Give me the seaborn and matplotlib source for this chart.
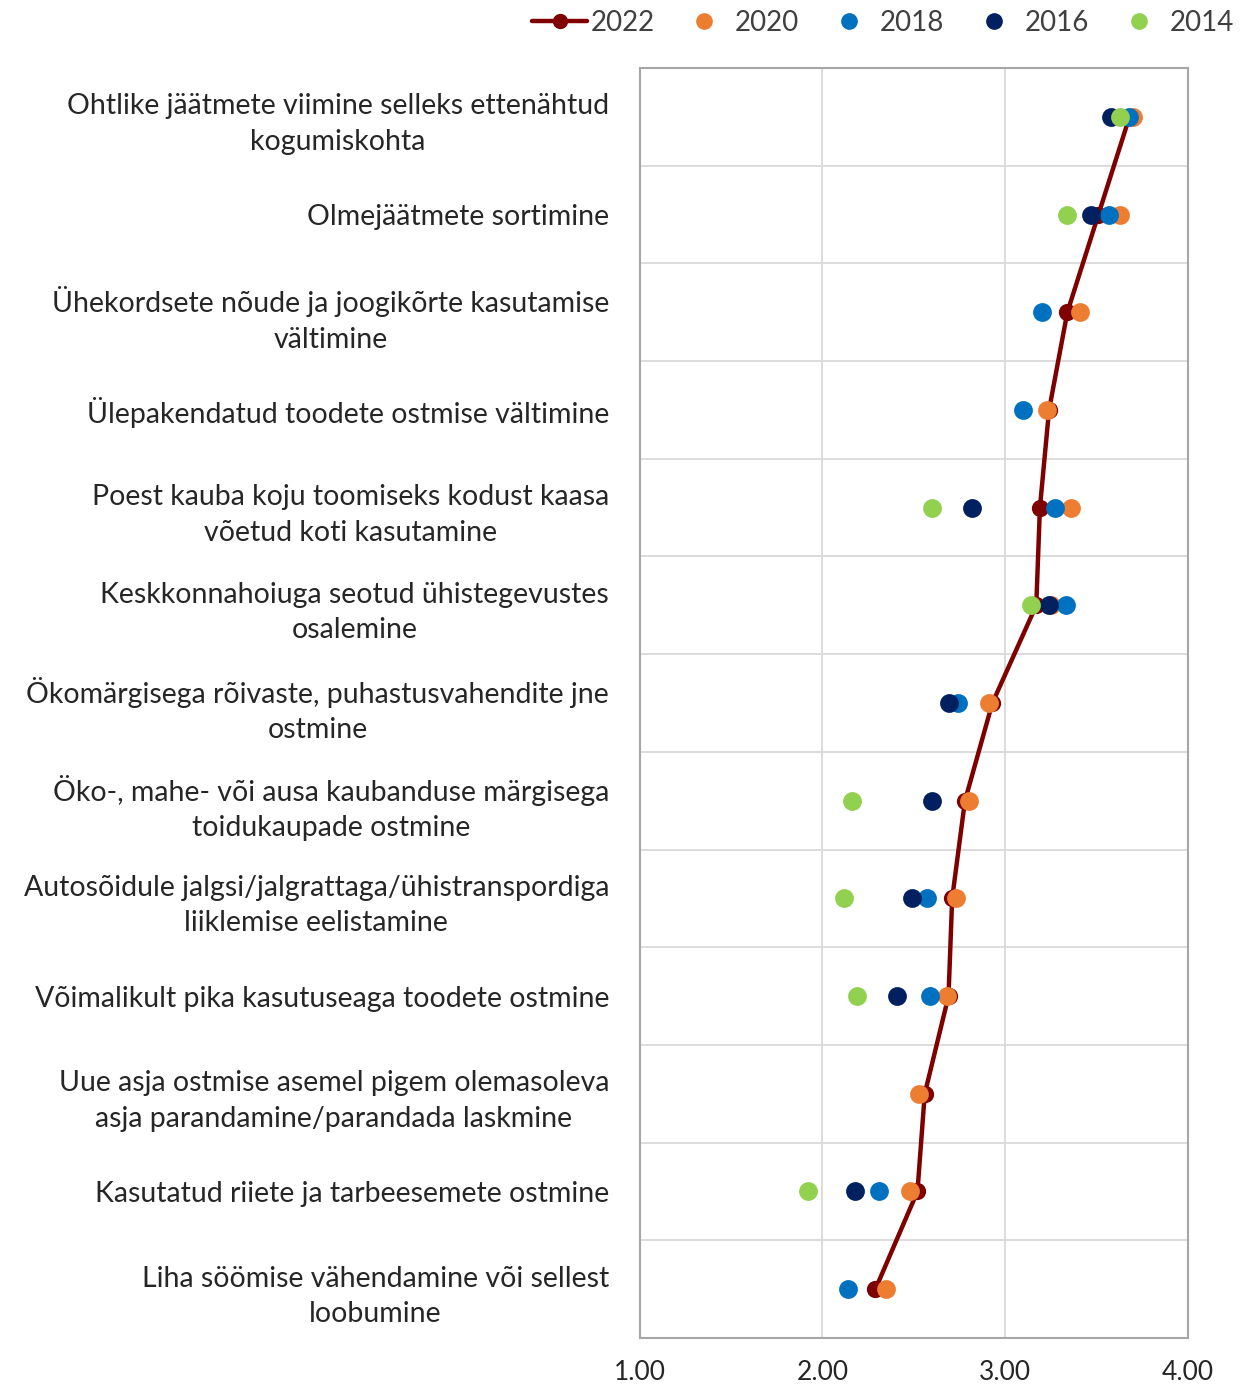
import pandas as pd
import numpy as np
import matplotlib.pyplot as plt
import seaborn as sns
from matplotlib.lines import Line2D

# kategooriad (ülevalt alla)
categories = [
    "Ohtlike jäätmete viimine selleks ettenähtud\nkogumiskohta",
    "Olmejäätmete sortimine",
    "Ühekordsete nõude ja joogikõrte kasutamise\nvältimine",
    "Ülepakendatud toodete ostmise vältimine",
    "Poest kauba koju toomiseks kodust kaasa\nvõetud koti kasutamine",
    "Keskkonnahoiuga seotud ühistegevustes\nosalemine",
    "Ökomärgisega rõivaste, puhastusvahendite jne\nostmine",
    "Öko-, mahe- või ausa kaubanduse märgisega\ntoidukaupade ostmine",
    "Autosõidule jalgsi/jalgrattaga/ühistranspordiga\nliiklemise eelistamine",
    "Võimalikult pika kasutuseaga toodete ostmine",
    "Uue asja ostmise asemel pigem olemasoleva\nasja parandamine/parandada laskmine",
    "Kasutatud riiete ja tarbeesemete ostmine",
    "Liha söömise vähendamine või sellest\nloobumine",
]

v2022 = [3.68, 3.51, 3.34, 3.24, 3.19, 3.17, 2.93, 2.78, 2.71, 2.69, 2.56, 2.52, 2.29]
v2020 = [3.70, 3.63, 3.41, 3.23, 3.36, 3.25, 2.91, 2.80, 2.73, 2.68, 2.53, 2.48, 2.35]
v2018 = [3.68, 3.57, 3.20, 3.10, 3.27, 3.33, 2.74, np.nan, 2.57, 2.59, np.nan, 2.31, 2.14]
v2016 = [3.58, 3.47, np.nan, np.nan, 2.82, 3.24, 2.69, 2.60, 2.49, 2.41, np.nan, 2.18, np.nan]
v2014 = [3.63, 3.34, np.nan, np.nan, 2.60, 3.14, np.nan, 2.16, 2.12, 2.19, np.nan, 1.92, np.nan]

years = ["2022", "2020", "2018", "2016", "2014"]
colors = ["#7F0000", "#ED7D31", "#0070C0", "#002060", "#92D050"]

df = pd.DataFrame({"kategooria": categories, "2022": v2022, "2020": v2020,
                   "2018": v2018, "2016": v2016, "2014": v2014})

sns.set_style("white")
plt.rcParams['font.family'] = ['Lato', 'DejaVu Sans']

fig = plt.figure(figsize=(12.59, 13.88), dpi=100)
ax = fig.add_axes([0.508, 0.036, 0.4356, 0.915])

# 2022 joon koos markeritega
sns.pointplot(data=df, x="2022", y="kategooria", order=categories, orient="h",
              color=colors[0], errorbar=None, markersize=10, linewidth=3.2, ax=ax)

# teised aastad ainult punktidena
for yr, col in zip(years[1:], colors[1:]):
    sub = df.dropna(subset=[yr])
    sns.pointplot(data=sub, x=yr, y="kategooria", order=categories, orient="h",
                  color=col, errorbar=None, linestyle="none", markersize=11.5, ax=ax)

ax.set_xlim(1, 4)
ax.set_xticks([1, 2, 3, 4])
ax.set_xticklabels([f"{t:.2f}" for t in [1, 2, 3, 4]])
ax.set_ylim(len(categories) - 0.5, -0.5)
ax.set_xlabel("")
ax.set_ylabel("")

# ruudustik
ax.set_yticks(np.arange(-0.5, len(categories), 1), minor=True)
ax.grid(axis="y", which="minor", color="#D9D9D9", linewidth=1.3)
ax.grid(axis="x", which="major", color="#D9D9D9", linewidth=1.3)
ax.set_axisbelow(True)
for s in ax.spines.values():
    s.set_visible(True)
    s.set_color("#A6A6A6")
    s.set_linewidth(1.5)

ax.tick_params(axis="y", which="both", length=0, pad=22, labelsize=20.5, labelcolor="#262626")
ax.tick_params(axis="x", length=0, pad=16, labelsize=19, labelcolor="#262626")
for lab in ax.get_yticklabels():
    lab.set_multialignment("center")
    lab.set_linespacing(1.45)

# legend
handles = [Line2D([0], [0], color=colors[0], lw=3.2, marker="o", markersize=10)]
for col in colors[1:]:
    handles.append(Line2D([0], [0], color=col, lw=0, marker="o", markersize=11))
fig.legend(handles, years, loc="upper right", bbox_to_anchor=(1.0, 1.011), ncol=5,
           frameon=False, fontsize=20, handlelength=2.0, handletextpad=0.1,
           columnspacing=0.8, labelcolor="#404040")

plt.savefig("out.png", dpi=100)
